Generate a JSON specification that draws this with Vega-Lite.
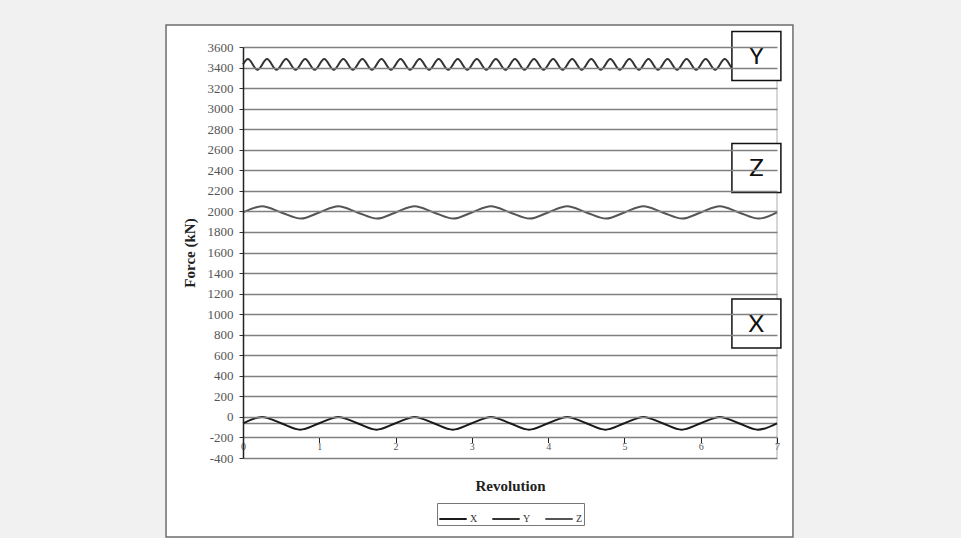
{
"$schema": "https://vega.github.io/schema/vega-lite/v6.json",
"width": 534, "height": 411,
"autosize": {"type": "none"},
"padding": {"left": 243, "top": 47, "right": 184, "bottom": 80},
"background": "#f1f1f1",
"config": {"view": {"stroke": null}},
"datasets": {
"series": [
{"s":"X","t":0,"f":-62},{"s":"X","t":0.25,"f":0},{"s":"X","t":0.5,"f":-62},{"s":"X","t":0.75,"f":-124},
{"s":"X","t":1,"f":-62},{"s":"X","t":1.25,"f":0},{"s":"X","t":1.5,"f":-62},{"s":"X","t":1.75,"f":-124},
{"s":"X","t":2,"f":-62},{"s":"X","t":2.25,"f":0},{"s":"X","t":2.5,"f":-62},{"s":"X","t":2.75,"f":-124},
{"s":"X","t":3,"f":-62},{"s":"X","t":3.25,"f":0},{"s":"X","t":3.5,"f":-62},{"s":"X","t":3.75,"f":-124},
{"s":"X","t":4,"f":-62},{"s":"X","t":4.25,"f":0},{"s":"X","t":4.5,"f":-62},{"s":"X","t":4.75,"f":-124},
{"s":"X","t":5,"f":-62},{"s":"X","t":5.25,"f":0},{"s":"X","t":5.5,"f":-62},{"s":"X","t":5.75,"f":-124},
{"s":"X","t":6,"f":-62},{"s":"X","t":6.25,"f":0},{"s":"X","t":6.5,"f":-62},{"s":"X","t":6.75,"f":-124},
{"s":"X","t":7,"f":-62},
{"s":"Y","t":0,"f":3432},
{"s":"Y","t":0.065,"f":3482},{"s":"Y","t":0.19,"f":3378},{"s":"Y","t":0.315,"f":3482},{"s":"Y","t":0.44,"f":3378},
{"s":"Y","t":0.565,"f":3482},{"s":"Y","t":0.69,"f":3378},{"s":"Y","t":0.815,"f":3482},{"s":"Y","t":0.94,"f":3378},
{"s":"Y","t":1.065,"f":3482},{"s":"Y","t":1.19,"f":3378},{"s":"Y","t":1.315,"f":3482},{"s":"Y","t":1.44,"f":3378},
{"s":"Y","t":1.565,"f":3482},{"s":"Y","t":1.69,"f":3378},{"s":"Y","t":1.815,"f":3482},{"s":"Y","t":1.94,"f":3378},
{"s":"Y","t":2.065,"f":3482},{"s":"Y","t":2.19,"f":3378},{"s":"Y","t":2.315,"f":3482},{"s":"Y","t":2.44,"f":3378},
{"s":"Y","t":2.565,"f":3482},{"s":"Y","t":2.69,"f":3378},{"s":"Y","t":2.815,"f":3482},{"s":"Y","t":2.94,"f":3378},
{"s":"Y","t":3.065,"f":3482},{"s":"Y","t":3.19,"f":3378},{"s":"Y","t":3.315,"f":3482},{"s":"Y","t":3.44,"f":3378},
{"s":"Y","t":3.565,"f":3482},{"s":"Y","t":3.69,"f":3378},{"s":"Y","t":3.815,"f":3482},{"s":"Y","t":3.94,"f":3378},
{"s":"Y","t":4.065,"f":3482},{"s":"Y","t":4.19,"f":3378},{"s":"Y","t":4.315,"f":3482},{"s":"Y","t":4.44,"f":3378},
{"s":"Y","t":4.565,"f":3482},{"s":"Y","t":4.69,"f":3378},{"s":"Y","t":4.815,"f":3482},{"s":"Y","t":4.94,"f":3378},
{"s":"Y","t":5.065,"f":3482},{"s":"Y","t":5.19,"f":3378},{"s":"Y","t":5.315,"f":3482},{"s":"Y","t":5.44,"f":3378},
{"s":"Y","t":5.565,"f":3482},{"s":"Y","t":5.69,"f":3378},{"s":"Y","t":5.815,"f":3482},{"s":"Y","t":5.94,"f":3378},
{"s":"Y","t":6.065,"f":3482},{"s":"Y","t":6.19,"f":3378},{"s":"Y","t":6.315,"f":3482},{"s":"Y","t":6.44,"f":3378},
{"s":"Y","t":6.565,"f":3482},{"s":"Y","t":6.69,"f":3378},{"s":"Y","t":6.815,"f":3482},{"s":"Y","t":6.94,"f":3378},
{"s":"Y","t":7,"f":3430},
{"s":"Z","t":0,"f":1990},{"s":"Z","t":0.25,"f":2050},{"s":"Z","t":0.5,"f":1990},{"s":"Z","t":0.76,"f":1930},
{"s":"Z","t":1,"f":1990},{"s":"Z","t":1.25,"f":2050},{"s":"Z","t":1.5,"f":1990},{"s":"Z","t":1.76,"f":1930},
{"s":"Z","t":2,"f":1990},{"s":"Z","t":2.25,"f":2050},{"s":"Z","t":2.5,"f":1990},{"s":"Z","t":2.76,"f":1930},
{"s":"Z","t":3,"f":1990},{"s":"Z","t":3.25,"f":2050},{"s":"Z","t":3.5,"f":1990},{"s":"Z","t":3.76,"f":1930},
{"s":"Z","t":4,"f":1990},{"s":"Z","t":4.25,"f":2050},{"s":"Z","t":4.5,"f":1990},{"s":"Z","t":4.76,"f":1930},
{"s":"Z","t":5,"f":1990},{"s":"Z","t":5.25,"f":2050},{"s":"Z","t":5.5,"f":1990},{"s":"Z","t":5.76,"f":1930},
{"s":"Z","t":6,"f":1990},{"s":"Z","t":6.25,"f":2050},{"s":"Z","t":6.5,"f":1990},{"s":"Z","t":6.76,"f":1930},
{"s":"Z","t":7,"f":1990}
],
"labels": [
{"label":"Y","rev":6.73,"force":3512},
{"label":"Z","rev":6.73,"force":2422},
{"label":"X","rev":6.73,"force":909}
],
"one": [{"k":1}]
},
"encoding": {
"x": {"type": "quantitative", "scale": {"domain": [0, 7], "nice": false, "zero": false},
"axis": {"title": "Revolution", "orient": "bottom", "offset": -20.5, "values": [0,1,2,3,4,5,6,7], "tickCount": 20, "labelExpr": "datum.value + ''", "grid": false, "zindex": 1,
"domain": false, "ticks": true, "tickColor": "#222", "tickSize": 5, "tickWidth": 1, "labelOverlap": false,
"labelFont": "Liberation Serif", "labelFontSize": 10, "labelColor": "#555", "labelPadding": -1, "labelFlush": false,
"titleFont": "Liberation Serif", "titleFontSize": 15, "titleFontWeight": "bold", "titleColor": "#222", "titlePadding": 27}},
"y": {"type": "quantitative", "scale": {"domain": [-400, 3600], "nice": false, "zero": false},
"axis": {"title": "Force (kN)", "values": [-400,-200,0,200,400,600,800,1000,1200,1400,1600,1800,2000,2200,2400,2600,2800,3000,3200,3400,3600],
"tickCount": 40, "labelExpr": "datum.value + ''", "labelOverlap": false, "grid": true, "gridColor": "#808080", "gridWidth": 1.5, "zindex": 1,
"domainColor": "#222", "domainWidth": 1.5, "tickColor": "#333", "tickSize": 4,
"labelFont": "Liberation Serif", "labelFontSize": 13, "labelColor": "#555", "labelPadding": 6,
"titleFont": "Liberation Serif", "titleFontSize": 15, "titleFontWeight": "bold", "titleColor": "#222", "titlePadding": 10}}
},
"layer": [
{
"data": {"name": "one"},
"mark": {"type": "rect", "fill": "white", "stroke": "#6e6e6e", "strokeWidth": 1.5, "clip": false},
"encoding": {
"x": {"datum": -1.009, "type": "quantitative"},
"x2": {"datum": 7.209},
"y": {"datum": 3814, "type": "quantitative"},
"y2": {"datum": -1169}
}
},
{
"data": {"name": "one"},
"mark": {"type": "rule", "color": "#c8c8c8", "strokeWidth": 1.5},
"encoding": {"x": {"datum": 7, "type": "quantitative"}, "y": {"datum": -400, "type": "quantitative"}, "y2": {"datum": 3600}}
},
{
"data": {"name": "one"},
"mark": {"type": "rule", "color": "#808080", "strokeWidth": 1.5},
"encoding": {"x": {"datum": 0, "type": "quantitative"}, "x2": {"datum": 7}, "y": {"datum": -65, "type": "quantitative"}}
},
{
"data": {"name": "series"},
"mark": {"type": "line", "interpolate": "monotone", "strokeWidth": 2},
"encoding": {
"x": {"field": "t", "type": "quantitative"},
"y": {"field": "f", "type": "quantitative"},
"color": {"field": "s", "type": "nominal", "scale": {"domain": ["X","Y","Z"], "range": ["#1a1a1a","#333333","#555555"]},
"legend": {"title": null, "orient": "none", "legendX": 194, "legendY": 456, "direction": "horizontal", "symbolType": "stroke", "symbolStrokeWidth": 2, "symbolSize": 750,
"labelFont": "Liberation Serif", "labelFontSize": 10, "labelColor": "#333", "strokeColor": "#777", "padding": 1, "columnPadding": 10, "labelOffset": 2}}
}
},
{
"data": {"name": "labels"},
"mark": {"type": "point", "shape": "square", "size": 2400, "filled": true, "fill": "white", "stroke": "#111", "strokeWidth": 1.5, "opacity": 1},
"encoding": {"x": {"field": "rev", "type": "quantitative"}, "y": {"field": "force", "type": "quantitative"}}
},
{
"data": {"name": "labels"},
"mark": {"type": "text", "font": "Lato", "fontSize": 24, "color": "#111", "baseline": "middle", "align": "center", "dy": 1},
"encoding": {"x": {"field": "rev", "type": "quantitative"}, "y": {"field": "force", "type": "quantitative"}, "text": {"field": "label"}}
}
]
}
